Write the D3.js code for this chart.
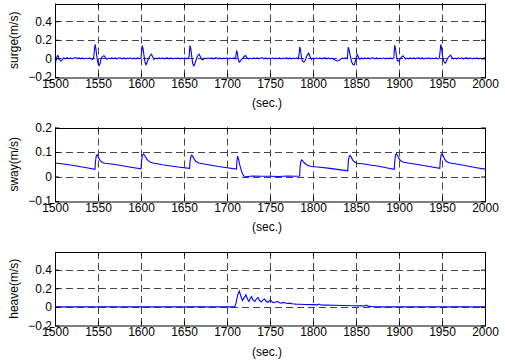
<!DOCTYPE html>
<html lang="en">
<head>
<meta charset="UTF-8">
<title>surge / sway / heave</title>
<script src="https://d3js.org/d3.v7.min.js"></script>
<style>
    body { margin: 0; background: #fff; }
    svg { display: block; font-family: "Liberation Sans", Arial, sans-serif; }
</style>
</head>
<body>
<div id="chart"></div>
<script>

// time ticks shared by all three panels
var xTicks = [1500, 1550, 1600, 1650, 1700, 1750, 1800, 1850, 1900, 1950, 2000];

var surgeTicks = [-0.2, 0, 0.2, 0.4];
var swayTicks = [-0.1, 0, 0.1, 0.2];
var heaveTicks = [-0.2, 0, 0.2, 0.4];

// [time (s), velocity (m/s)]
var surgeData = [
    [1500, 0.00], [1501, -0.03], [1502, 0.01], [1503, 0.03], [1504, 0.02], [1505, -0.01], [1507, -0.03],
    [1508, -0.02], [1510, 0.005], [1512, -0.004], [1514, 0.008], [1516, -0.003], [1518, 0.006], [1520, -0.005],
    [1522, 0.004], [1524, 0.009], [1526, -0.002], [1528, 0.006], [1530, -0.004], [1532, 0.005], [1534, -0.006],
    [1536, 0.004], [1538, -0.003], [1540, 0.005], [1542, -0.006], [1544, -0.01], [1545, 0.01],
    [1546, 0.10], [1546.6, 0.152], [1547.5, 0.11], [1548.5, 0.03], [1549.5, -0.03], [1550.5, -0.065], [1551.5, -0.075],
    [1552.5, -0.05], [1553.5, -0.01], [1555, 0.02], [1557, 0.03], [1558.5, 0.01], [1560, -0.01], [1562, 0.004],
    [1564, -0.004], [1566, 0.006], [1568, -0.003], [1570, 0.005], [1572, -0.005], [1574, 0.004], [1576, 0.007],
    [1578, -0.004], [1580, 0.005], [1582, -0.006], [1584, 0.003], [1586, -0.002], [1588, 0.006], [1590, -0.005],
    [1592, 0.004], [1594, -0.004], [1596, 0.006], [1598, -0.006], [1600, 0.004],
    [1600.8, 0.08], [1601.5, 0.137], [1602.5, 0.10], [1603.5, 0.03], [1604.5, -0.03], [1605.3, -0.06], [1606, -0.067],
    [1607, -0.045], [1608.5, -0.01], [1610, 0.02], [1612, 0.045], [1613.5, 0.02], [1615, -0.01], [1617, 0.004],
    [1619, -0.005], [1621, 0.006], [1623, -0.003], [1625, 0.005], [1627, -0.005], [1629, 0.004], [1631, 0.007],
    [1633, -0.004], [1635, 0.005], [1637, -0.006], [1639, 0.003], [1641, -0.003], [1643, 0.006], [1645, -0.005],
    [1647, 0.004], [1649, -0.004], [1651, 0.005], [1653, -0.006], [1655, 0.004], [1656, 0.02],
    [1656.5, 0.09], [1657, 0.137], [1658, 0.10], [1659, 0.02], [1660, -0.05], [1661, -0.075], [1661.6, -0.08],
    [1662.5, -0.06], [1664, -0.02], [1665.5, 0.02], [1667.5, 0.045], [1669, 0.02], [1670.5, -0.01], [1672, -0.015],
    [1674, 0.003], [1676, -0.004], [1678, 0.006], [1680, -0.003], [1682, 0.005], [1684, -0.005], [1686, 0.004],
    [1688, 0.007], [1690, -0.004], [1692, 0.005], [1694, -0.006], [1696, 0.003], [1698, -0.002], [1700, 0.006],
    [1702, -0.005], [1704, 0.004], [1706, -0.004], [1708, 0.005], [1710, -0.004],
    [1710.6, 0.05], [1711.2, 0.085], [1712, 0.06], [1713, 0.0], [1714, -0.035], [1714.7, -0.04], [1716, -0.02],
    [1718, 0.0], [1720, 0.02], [1721.6, 0.03], [1723, 0.01], [1725, -0.008], [1727, 0.004], [1729, -0.004],
    [1731, 0.006], [1733, -0.003], [1735, 0.005], [1737, -0.005], [1739, 0.004], [1741, 0.006], [1743, -0.004],
    [1745, 0.005], [1747, -0.006], [1749, 0.003], [1751, -0.003], [1753, 0.006], [1755, -0.005], [1757, 0.004],
    [1759, -0.004], [1761, 0.005], [1763, -0.006], [1765, 0.004], [1767, -0.002], [1769, 0.006], [1771, -0.004],
    [1773, 0.005], [1775, -0.005], [1777, 0.004], [1779, -0.003], [1781, 0.005], [1783, -0.004],
    [1784, 0.06], [1784.6, 0.123], [1785.5, 0.09], [1786.5, 0.02], [1787.5, -0.025], [1789.4, -0.04], [1791, -0.02],
    [1793, 0.03], [1795, 0.056], [1796.5, 0.02], [1798, -0.01], [1800, 0.004], [1802, -0.004], [1804, 0.006],
    [1806, -0.003], [1808, 0.005], [1810, -0.005], [1812, 0.004], [1814, 0.006], [1816, -0.004], [1818, 0.005],
    [1820, -0.006], [1822, 0.003], [1824, -0.01], [1826, -0.02], [1828, -0.028], [1830, -0.022], [1832, -0.01],
    [1834, 0.004], [1836, -0.004], [1838, 0.005], [1840, -0.004],
    [1840.5, 0.07], [1841, 0.12], [1842, 0.09], [1843.5, 0.02], [1845, -0.04], [1846.5, -0.065], [1848, -0.07],
    [1849, -0.04], [1850.3, 0.01], [1851.6, 0.04], [1853, 0.01], [1854.5, -0.01], [1856, 0.004], [1858, -0.004],
    [1860, 0.006], [1862, -0.003], [1864, 0.005], [1866, -0.005], [1868, 0.004], [1870, 0.007], [1872, -0.004],
    [1874, 0.005], [1876, -0.006], [1878, 0.003], [1880, -0.003], [1882, 0.006], [1884, -0.005], [1886, 0.004],
    [1888, -0.004], [1890, 0.005], [1892, -0.006], [1894, 0.004],
    [1894.5, 0.08], [1895, 0.14], [1896, 0.10], [1897, 0.03], [1898, -0.02], [1899, -0.03], [1900.5, -0.015],
    [1902.5, 0.01], [1904.7, 0.028], [1906, 0.01], [1907.5, -0.006], [1909, 0.004], [1911, -0.004], [1913, 0.006],
    [1915, -0.003], [1917, 0.005], [1919, -0.005], [1921, 0.004], [1923, 0.007], [1925, -0.004], [1927, 0.005],
    [1929, -0.006], [1931, 0.003], [1933, -0.002], [1935, 0.006], [1937, -0.005], [1939, 0.004], [1941, -0.004],
    [1943, 0.005], [1945, -0.006], [1947, 0.004],
    [1947.8, 0.08], [1948.6, 0.15], [1949.5, 0.11], [1950.5, 0.03], [1952, -0.03], [1953, -0.048], [1954, -0.05],
    [1955.5, -0.02], [1957.5, 0.015], [1960, 0.035], [1961.5, 0.01], [1963, -0.006], [1965, 0.004], [1967, -0.004],
    [1969, 0.006], [1971, -0.003], [1973, 0.005], [1975, -0.005], [1977, 0.004], [1979, 0.007], [1981, -0.004],
    [1983, 0.005], [1985, -0.006], [1987, 0.003], [1989, -0.003], [1991, 0.006], [1993, -0.005], [1995, 0.004],
    [1997, -0.004], [1999, 0.005], [2000, 0.0]
];

var swayData = [
    [1500, 0.055], [1510, 0.051], [1520, 0.046], [1530, 0.040], [1540, 0.034], [1546.5, 0.029],
    [1547, 0.06], [1548, 0.085], [1549, 0.089], [1550, 0.082], [1552, 0.068], [1554, 0.060], [1556, 0.056],
    [1558, 0.054], [1570, 0.049], [1580, 0.043], [1590, 0.037], [1600, 0.031],
    [1600.6, 0.06], [1601.5, 0.085], [1603, 0.092], [1604.5, 0.085], [1606, 0.075], [1608, 0.066], [1611, 0.058],
    [1614, 0.055], [1625, 0.048], [1635, 0.043], [1645, 0.038], [1656.5, 0.033],
    [1657, 0.06], [1658, 0.082], [1659, 0.087], [1660.5, 0.080], [1662, 0.070], [1664, 0.061], [1667, 0.055],
    [1680, 0.047], [1690, 0.041], [1700, 0.036], [1711, 0.030],
    [1711.5, 0.06], [1712.3, 0.083], [1713.5, 0.07], [1715, 0.045], [1717, 0.02], [1719, 0.004], [1721, -0.002],
    [1724, 0.0], [1730, 0.002], [1740, 0.001], [1750, 0.001], [1760, 0.0], [1770, 0.002], [1780, 0.001],
    [1784.5, 0.002],
    [1785, 0.04], [1786, 0.062], [1787, 0.068], [1788.5, 0.062], [1790, 0.055], [1793, 0.047], [1797, 0.042],
    [1805, 0.039], [1820, 0.033], [1830, 0.028], [1840.5, 0.023],
    [1841, 0.06], [1842, 0.082], [1843, 0.086], [1844.5, 0.079], [1846, 0.068], [1848, 0.060], [1851, 0.054],
    [1860, 0.051], [1868, 0.046], [1875, 0.043], [1885, 0.036], [1894.5, 0.029],
    [1895, 0.06], [1896, 0.088], [1897, 0.093], [1898.5, 0.085], [1900, 0.073], [1902, 0.064], [1905, 0.058],
    [1920, 0.050], [1935, 0.041], [1947.4, 0.033],
    [1948, 0.065], [1949, 0.090], [1950, 0.092], [1951.5, 0.084], [1953, 0.072], [1955, 0.062], [1958, 0.056],
    [1975, 0.046], [1990, 0.036], [2000, 0.030]
];

var heaveData = [
    [1500, 0.0], [1600, 0.0], [1709, 0.0], [1710.5, 0.04], [1712.5, 0.13], [1714.3, 0.17], [1716, 0.12],
    [1718, 0.07], [1720, 0.10], [1722, 0.13], [1724, 0.08], [1725.5, 0.06], [1727, 0.09], [1728.6, 0.11],
    [1730.5, 0.07], [1732.5, 0.06], [1734.5, 0.09], [1736, 0.10], [1738, 0.065], [1740, 0.055], [1742, 0.075],
    [1743.5, 0.085], [1745.5, 0.06], [1747.5, 0.05], [1749.5, 0.065], [1751, 0.07], [1753, 0.05], [1755, 0.045],
    [1757, 0.055], [1759, 0.058], [1761, 0.045], [1763, 0.04], [1765, 0.048], [1767, 0.045], [1770, 0.036],
    [1773, 0.04], [1776, 0.034], [1780, 0.03], [1785, 0.029], [1790, 0.026], [1800, 0.024], [1805, 0.022],
    [1807, 0.03], [1809, 0.02], [1815, 0.019], [1825, 0.017], [1835, 0.015], [1845, 0.013], [1855, 0.011],
    [1860, 0.01], [1862, 0.018], [1864, 0.008], [1868, 0.003], [1872, 0.001], [1880, 0.0], [2000, 0.0]
];

var panels = [
    { label: 'surge(m/s)', data: surgeData, ticks: surgeTicks, domain: [-0.2, 0.59], top: 3.5 },
    { label: 'sway(m/s)',  data: swayData,  ticks: swayTicks,  domain: [-0.1, 0.2],  top: 127.5 },
    { label: 'heave(m/s)', data: heaveData, ticks: heaveTicks, domain: [-0.2, 0.59], top: 252 }
];

var w = 505, h = 364;
var m = { left: 55, right: 20 };
var panelH = 73.5;
var fontSize = '12px';

var svg = d3.select('#chart')
    .append('svg')
    .attr('width', w)
    .attr('height', h);

var x = d3.scaleLinear()
    .domain([1500, 2000])
    .range([m.left, w - m.right]);

panels.forEach(function (p) {
    var y = d3.scaleLinear()
        .domain(p.domain)
        .range([p.top + panelH, p.top]);

    var g = svg.append('g');

    // dashed grid
    g.selectAll('.vgrid')
        .data(xTicks.slice(1, -1))
        .enter()
        .append('line')
        .attr('x1', function (d) { return Math.round(x(d)) + 0.5; })
        .attr('x2', function (d) { return Math.round(x(d)) + 0.5; })
        .attr('y1', p.top)
        .attr('y2', p.top + panelH)
        .attr('stroke', '#444')
        .attr('stroke-dasharray', '7,4');

    g.selectAll('.hgrid')
        .data(p.ticks.filter(function (d) { return d > p.domain[0]; }))
        .enter()
        .append('line')
        .attr('x1', m.left)
        .attr('x2', w - m.right)
        .attr('y1', function (d) { return Math.round(y(d)) + 0.5; })
        .attr('y2', function (d) { return Math.round(y(d)) + 0.5; })
        .attr('stroke', '#444')
        .attr('stroke-dasharray', '7,4');

    // data line
    var line = d3.line()
        .x(function (d) { return x(d[0]); })
        .y(function (d) { return y(d[1]); });

    g.append('path')
        .datum(p.data)
        .attr('d', line)
        .attr('fill', 'none')
        .attr('stroke', '#0000ff')
        .attr('stroke-width', 1.1);

    // axes (ticks pointing inward, mirrored on top/right)
    var bottom = g.append('g')
        .attr('transform', 'translate(0,' + (p.top + panelH) + ')')
        .call(d3.axisBottom(x).tickValues(xTicks).tickFormat(d3.format('d')).tickSizeInner(-4).tickSizeOuter(0));
    bottom.selectAll('text').attr('dy', '0.71em').attr('y', 2);

    g.append('g')
        .attr('transform', 'translate(0,' + p.top + ')')
        .call(d3.axisTop(x).tickValues(xTicks).tickFormat('').tickSizeInner(-4).tickSizeOuter(0));

    g.append('g')
        .attr('transform', 'translate(' + m.left + ',0)')
        .call(d3.axisLeft(y).tickValues(p.ticks).tickFormat(d3.format('')).tickSizeInner(-4).tickSizeOuter(0))
        .selectAll('text').attr('x', -3);

    g.append('g')
        .attr('transform', 'translate(' + (w - m.right) + ',0)')
        .call(d3.axisRight(y).tickValues(p.ticks).tickFormat('').tickSizeInner(-4).tickSizeOuter(0));

    g.selectAll('.domain').remove();
    g.selectAll('.tick line').attr('stroke', '#000');
    g.selectAll('.tick text')
        .attr('fill', '#000')
        .style('font-size', fontSize)
        .style('font-family', '"Liberation Sans", Arial, sans-serif');

    // box
    g.append('rect')
        .attr('x', m.left + 0.5)
        .attr('y', Math.round(p.top) + 0.5)
        .attr('width', w - m.right - m.left)
        .attr('height', panelH)
        .attr('fill', 'none')
        .attr('stroke', '#000');

    // labels
    g.append('text')
        .attr('x', (m.left + w - m.right) / 2 - 3)
        .attr('y', p.top + panelH + 30)
        .attr('text-anchor', 'middle')
        .style('font-size', fontSize)
        .text('(sec.)');

    g.append('text')
        .attr('transform', 'translate(18,' + (p.top + panelH / 2) + ') rotate(-90)')
        .attr('text-anchor', 'middle')
        .style('font-size', fontSize)
        .text(p.label);
});

</script>
</body>
</html>
